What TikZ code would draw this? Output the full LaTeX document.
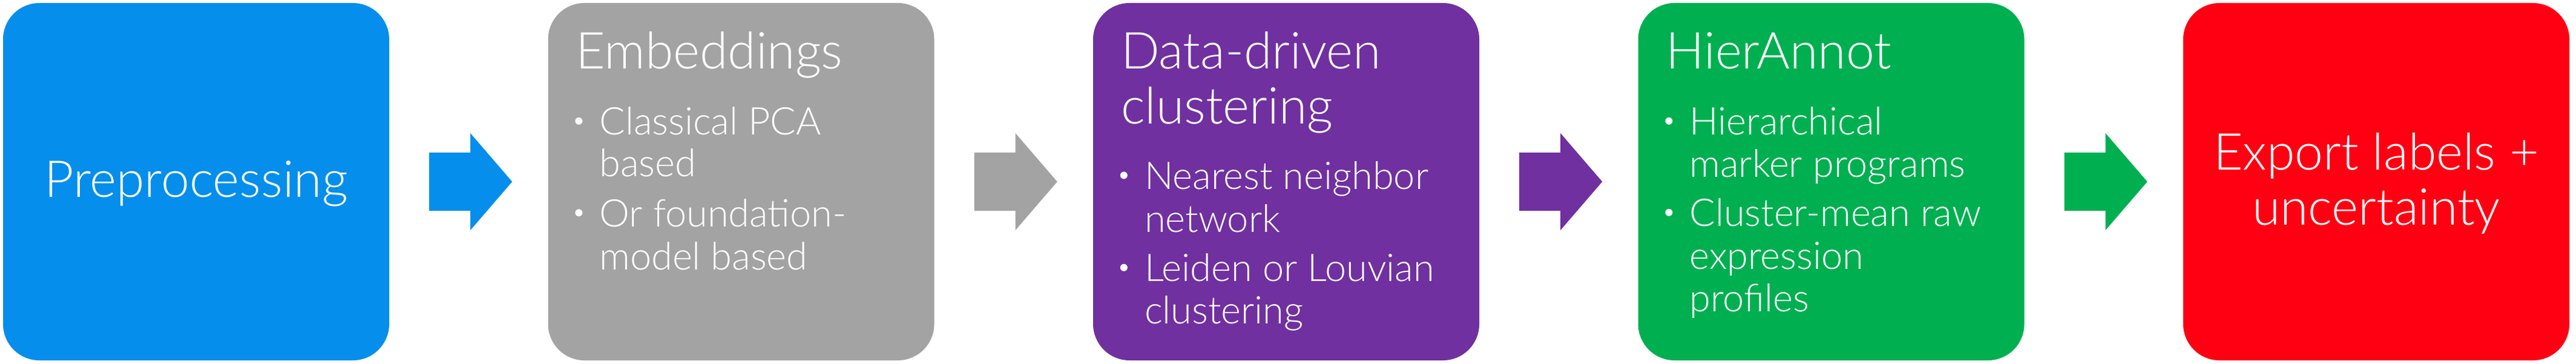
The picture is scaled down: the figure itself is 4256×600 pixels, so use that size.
\documentclass[tikz,border=0pt]{standalone}
\usepackage{fontspec}
\setmainfont{Lato Light}
\usetikzlibrary{calc}
\definecolor{cblue}{HTML}{058EEB}
\definecolor{cgray}{HTML}{A3A3A3}
\definecolor{cpurple}{HTML}{7030A0}
\definecolor{cgreen}{HTML}{00B050}
\definecolor{cred}{HTML}{FF0013}
\tikzset{
  stage/.style={rounded corners=60pt, minimum width=638pt, minimum height=590pt, inner sep=0pt, fill=#1},
  ttl/.style={anchor=base west, inner sep=0pt, text=white, font=\fontsize{84}{90}\selectfont},
  bul/.style={anchor=base west, inner sep=0pt, text=white, font=\fontsize{63}{70}\selectfont},
  ctr/.style={anchor=base, inner sep=0pt, text=white, font=\fontsize{84}{90}\selectfont},
}
\newcommand\blockarrow[2]{\fill[#2] ($(#1.east)+(66,48)$) -- ++(68,0) -- ++(0,32) -- ++(69,-80) -- ++(-69,-80) -- ++(0,32) -- ++(-68,0) -- cycle;}
\newcommand\bdot[2]{\fill[white] ($(#1.north west)+(51,#2+23)$) circle (6);}
\begin{document}
\begin{tikzpicture}[x=1pt,y=1pt]
\useasboundingbox (0,0) rectangle (4256,600);
\node[stage=cblue]   (s1) at (324,300) {};
\node[stage=cgray]   (s2) at (1224.5,300) {};
\node[stage=cpurple] (s3) at (2125,300) {};
\node[stage=cgreen]  (s4) at (3025.5,300) {};
\node[stage=cred]    (s5) at (3926,300) {};
\blockarrow{s1}{cblue}
\blockarrow{s2}{cgray}
\blockarrow{s3}{cpurple}
\blockarrow{s4}{cgreen}
% box 1
\node[ctr] (t1) at ($(s1.center)+(0,-25.5)$) {Preprocessing};
% box 2
\node[ttl] (t2) at ($(s2.north west)+(46,-109)$) {Embeddings};
\node[bul] (b2a) at ($(s2.north west)+(85,-218)$) {Classical PCA};
\node[bul] (b2b) at ($(s2.north west)+(85,-287)$) {based};
\node[bul] (b2c) at ($(s2.north west)+(85,-369.5)$) {Or foundation-};
\node[bul] (b2d) at ($(s2.north west)+(85,-441)$) {model based};
\bdot{s2}{-218}
\bdot{s2}{-369.5}
% box 3
\node[ttl] (t3a) at ($(s3.north west)+(46,-109)$) {Data-driven};
\node[ttl] (t3b) at ($(s3.north west)+(46,-199.6)$) {clustering};
\node[bul] (b3a) at ($(s3.north west)+(85,-307.7)$) {Nearest neighbor};
\node[bul] (b3b) at ($(s3.north west)+(85,-379)$) {network};
\node[bul] (b3c) at ($(s3.north west)+(85,-460)$) {Leiden or Louvian};
\node[bul] (b3d) at ($(s3.north west)+(85,-530)$) {clustering};
\bdot{s3}{-307.7}
\bdot{s3}{-460}
% box 4
\node[ttl] (t4) at ($(s4.north west)+(46,-109)$) {HierAnnot};
\node[bul] (b4a) at ($(s4.north west)+(85,-218)$) {Hierarchical};
\node[bul] (b4b) at ($(s4.north west)+(85,-288)$) {marker programs};
\node[bul] (b4c) at ($(s4.north west)+(85,-369)$) {Cluster-mean raw};
\node[bul] (b4d) at ($(s4.north west)+(85,-440)$) {expression};
\node[bul] (b4e) at ($(s4.north west)+(85,-510)$) {profiles};
\bdot{s4}{-218}
\bdot{s4}{-369}
% box 5
\node[ctr] (t5a) at ($(s5.center)+(0,19)$) {Export labels +};
\node[ctr] (t5b) at ($(s5.center)+(0,-71.5)$) {uncertainty};
\end{tikzpicture}
\end{document}
